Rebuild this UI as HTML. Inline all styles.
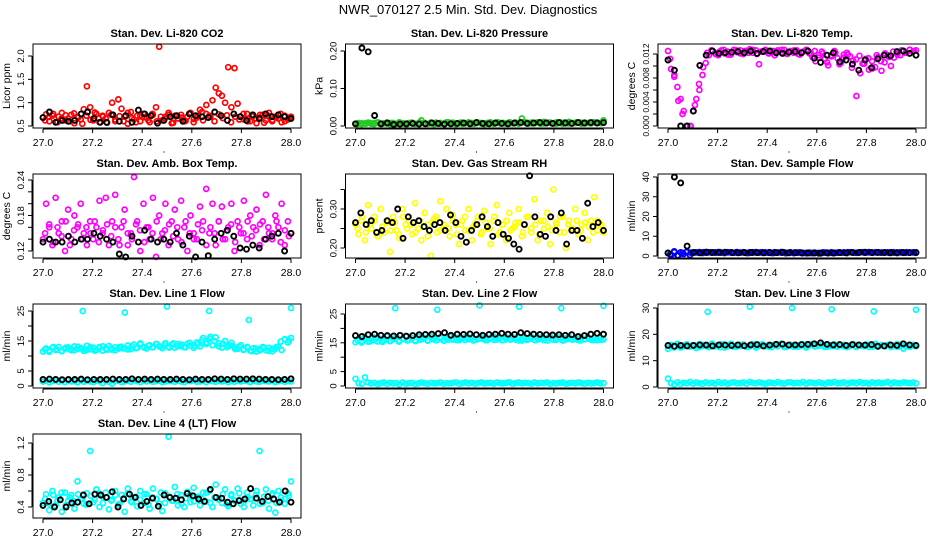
<!DOCTYPE html>
<html><head><meta charset="utf-8">
<style>
html,body{margin:0;padding:0;background:#fff;}
svg{display:block;font-family:"Liberation Sans",Arial,sans-serif;}
</style></head>
<body>
<svg id="chart" width="936" height="540" viewBox="0 0 936 540" xmlns="http://www.w3.org/2000/svg">
<rect width="936" height="540" fill="#fff"/>
<text x="468" y="14" text-anchor="middle" font-size="13">NWR_070127  2.5 Min. Std. Dev. Diagnostics</text>
</svg>
<script>
// ---- data ----
const xTicks=[27.0,27.2,27.4,27.6,27.8,28.0];
const xTickLabels=["27.0","27.2","27.4","27.6","27.8","28.0"];

const co2Red=[0.68,0.75,0.6,0.72,0.58,0.7,0.78,0.62,0.66,0.74,0.56,0.7,0.64,0.86,1.35,0.9,0.62,0.76,0.58,0.72,0.66,0.78,1.0,0.6,1.07,0.87,0.7,0.55,0.8,0.64,0.72,0.6,0.76,0.68,0.58,0.74,0.9,2.2,0.62,0.7,0.78,0.56,0.72,0.66,0.74,0.6,0.7,0.78,0.58,0.68,0.85,0.62,0.76,0.72,1.05,1.32,1.2,1.15,1.0,1.76,0.9,1.74,0.98,0.7,0.64,0.76,0.6,0.72,0.56,0.68,0.74,0.62,0.78,0.6,0.7,0.66,0.58,0.72,0.64,0.7];
const co2Red2=[0.62,0.7,0.76,0.58,0.66,0.73,0.6,0.77,0.68,0.55,0.72,0.63,0.79,0.66,0.7,0.57,0.74,0.64,0.71,0.6,0.78,0.67,0.58,0.73,0.69,0.62,0.76,0.6,0.7,0.66,0.74,0.57,0.72,0.68,0.61,0.77,0.65,0.72,0.8,0.95,0.7,0.6,0.75,0.67,0.73,0.58,0.7,0.64,0.76,0.6,0.71,0.66,0.74,0.57,0.72,0.63,0.69,0.76,0.6,0.68];
const co2Black=[0.68,0.8,0.58,0.62,0.6,0.62,0.76,0.8,0.66,0.58,0.58,0.74,0.6,0.72,0.58,0.84,0.76,0.72,0.56,0.62,0.7,0.72,0.6,0.76,0.72,0.7,0.68,0.8,0.72,0.62,0.76,0.7,0.62,0.74,0.66,0.76,0.7,0.74,0.7,0.66];

const presGreen=[0.006,0.008,0.005,0.007,0.009,0.006,0.008,0.01,0.006,0.007,0.009,0.005,0.008,0.006,0.01,0.007,0.005,0.008,0.009,0.006,0.007,0.015,0.008,0.006,0.009,0.005,0.007,0.008,0.006,0.01,0.007,0.009,0.005,0.008,0.006,0.007,0.01,0.008,0.006,0.009,0.007,0.005,0.008,0.01,0.006,0.009,0.007,0.008,0.006,0.01,0.007,0.009,0.008,0.02,0.01,0.007,0.009,0.008,0.01,0.006,0.011,0.008,0.009,0.007,0.01,0.008,0.006,0.009,0.011,0.007,0.008,0.01,0.006,0.009,0.008,0.007,0.01,0.009,0.008,0.015];
const presGreen2=[0.005,0.007,0.006,0.008,0.005,0.009,0.006,0.007,0.008,0.006,0.009,0.007,0.005,0.008,0.006,0.01,0.007,0.006,0.008,0.009,0.006,0.007,0.01,0.008,0.006,0.009,0.007,0.008,0.006,0.01,0.008,0.007,0.009,0.006,0.01,0.008,0.007,0.009,0.008,0.006,0.01,0.009,0.007,0.008,0.01,0.007,0.009,0.008,0.006,0.01,0.009,0.007,0.008,0.01,0.009,0.007,0.008,0.01,0.009,0.008];
const presBlack=[0.006,0.208,0.198,0.028,0.006,0.008,0.004,0.005,0.006,0.007,0.005,0.006,0.008,0.007,0.005,0.006,0.007,0.008,0.006,0.009,0.007,0.006,0.008,0.007,0.006,0.008,0.009,0.007,0.008,0.009,0.008,0.007,0.009,0.008,0.007,0.009,0.008,0.009,0.008,0.009];

const tempMag=[0.0125,0.0095,0.0085,0.0065,0.0045,0.0025,0.0,0.0,0.0025,0.0045,0.006,0.0085,0.0105,0.0118,0.0125,0.0122,0.0118,0.0126,0.0121,0.0124,0.0119,0.0127,0.0123,0.0126,0.012,0.0125,0.0128,0.0122,0.0126,0.0103,0.0124,0.0127,0.0121,0.0125,0.0118,0.0126,0.0123,0.0127,0.012,0.0125,0.0122,0.0126,0.0119,0.0124,0.0127,0.0121,0.0115,0.0108,0.0118,0.0124,0.0112,0.0101,0.0118,0.0125,0.0113,0.0105,0.0119,0.0122,0.0116,0.0109,0.0050,0.0117,0.0104,0.0112,0.0094,0.0108,0.0098,0.0115,0.0092,0.0106,0.0118,0.0100,0.0114,0.0121,0.0118,0.0125,0.0122,0.0127,0.0124,0.0126];
const tempMag2=[0.0112,0.0082,0.0042,0.002,0.0,0.0,0.0035,0.007,0.0098,0.0122,0.0126,0.012,0.0124,0.0127,0.0119,0.0123,0.0126,0.0121,0.0125,0.0122,0.0127,0.012,0.0124,0.0126,0.0121,0.0125,0.0123,0.0127,0.0121,0.0124,0.0126,0.012,0.0123,0.0127,0.0122,0.0125,0.0114,0.0121,0.0106,0.0116,0.0122,0.0103,0.0114,0.0119,0.0097,0.0111,0.0088,0.0104,0.0113,0.0096,0.0118,0.0108,0.0121,0.0115,0.0124,0.0119,0.0126,0.0122,0.0127,0.0125];
const tempBlack=[0.011,0.0093,0.0,0.0,0.0025,0.0101,0.0118,0.0125,0.0121,0.0122,0.0123,0.0124,0.0122,0.0125,0.0121,0.0124,0.0125,0.0122,0.0121,0.0123,0.0124,0.0122,0.0125,0.0113,0.0106,0.0118,0.0122,0.0107,0.0110,0.0103,0.0093,0.0110,0.0097,0.0112,0.0118,0.0117,0.0124,0.0125,0.0121,0.0118];

const ambMag=[0.14,0.2,0.16,0.13,0.21,0.15,0.17,0.12,0.19,0.14,0.18,0.16,0.2,0.15,0.13,0.17,0.14,0.16,0.205,0.15,0.21,0.13,0.17,0.215,0.14,0.16,0.19,0.13,0.15,0.245,0.17,0.12,0.2,0.16,0.14,0.21,0.11,0.18,0.15,0.2,0.13,0.17,0.19,0.14,0.205,0.16,0.12,0.18,0.15,0.14,0.195,0.17,0.225,0.15,0.2,0.13,0.17,0.195,0.14,0.16,0.2,0.12,0.17,0.15,0.205,0.14,0.18,0.16,0.19,0.13,0.17,0.215,0.15,0.14,0.18,0.16,0.2,0.13,0.17,0.15];
const ambMag2=[0.15,0.165,0.135,0.16,0.145,0.17,0.13,0.155,0.165,0.14,0.16,0.15,0.17,0.135,0.155,0.165,0.145,0.16,0.13,0.17,0.15,0.14,0.165,0.155,0.135,0.16,0.15,0.17,0.14,0.155,0.165,0.145,0.16,0.135,0.17,0.15,0.14,0.165,0.155,0.13,0.16,0.15,0.17,0.14,0.155,0.165,0.135,0.16,0.15,0.17,0.145,0.155,0.165,0.14,0.16,0.15,0.17,0.135,0.155,0.145];
const ambBlack=[0.135,0.14,0.135,0.135,0.145,0.135,0.14,0.14,0.15,0.145,0.14,0.135,0.115,0.11,0.145,0.135,0.155,0.14,0.135,0.14,0.135,0.15,0.13,0.145,0.11,0.135,0.112,0.14,0.15,0.155,0.145,0.125,0.123,0.13,0.125,0.14,0.145,0.15,0.12,0.15];

const rhYel=[0.26,0.235,0.28,0.22,0.31,0.25,0.27,0.23,0.3,0.24,0.265,0.19,0.28,0.245,0.225,0.3,0.26,0.27,0.235,0.315,0.25,0.22,0.29,0.26,0.18,0.275,0.24,0.32,0.25,0.3,0.23,0.285,0.26,0.21,0.27,0.245,0.3,0.22,0.26,0.28,0.235,0.295,0.25,0.21,0.27,0.31,0.24,0.26,0.22,0.29,0.25,0.265,0.3,0.23,0.26,0.28,0.24,0.325,0.22,0.27,0.25,0.29,0.21,0.35,0.26,0.24,0.28,0.2,0.27,0.25,0.3,0.235,0.26,0.29,0.22,0.27,0.33,0.245,0.26,0.24];
const rhYel2=[0.25,0.27,0.24,0.26,0.28,0.23,0.255,0.27,0.245,0.265,0.235,0.28,0.25,0.26,0.24,0.27,0.255,0.23,0.265,0.28,0.245,0.26,0.25,0.27,0.235,0.26,0.28,0.245,0.255,0.27,0.24,0.265,0.25,0.28,0.235,0.26,0.27,0.245,0.255,0.265,0.24,0.28,0.25,0.26,0.235,0.27,0.255,0.245,0.265,0.28,0.24,0.26,0.25,0.27,0.245,0.265,0.255,0.24,0.27,0.26];
const rhBlack=[0.265,0.29,0.26,0.27,0.24,0.245,0.27,0.265,0.3,0.225,0.28,0.265,0.27,0.255,0.245,0.26,0.265,0.245,0.285,0.265,0.23,0.215,0.245,0.26,0.28,0.255,0.23,0.265,0.235,0.225,0.21,0.197,0.26,0.385,0.28,0.235,0.23,0.28,0.245,0.29,0.21,0.245,0.245,0.225,0.315,0.255,0.265,0.245];

const sampBlue=[1.5,0.5,2.0,0.3,1.8,1.0,2.2,0.5,1.6,1.8,2.0,1.5,1.7,1.9,1.6,1.8,2.0,1.7,1.5,1.9,1.8,1.6,2.0,1.7,1.9,1.5,1.8,1.6,2.0,1.7,1.9,1.8,1.6,1.5,1.9,1.7,2.0,1.8,1.6,1.9,1.5,1.7,1.8,1.6,1.4,1.7,1.5,1.6,1.3,1.5,1.7,1.4,1.6,1.5,1.7,1.6,1.8,1.5,1.9,1.7,1.6,1.8,1.9,1.7,2.0,1.6,1.8,1.9,1.7,1.6,1.8,1.9,1.7,1.5,1.8,1.6,1.9,1.7,1.8,1.6];
const sampBlue2=[0.8,2.4,0.2,1.6,1.9,1.7,1.8,1.6,1.9,1.7,1.8,1.6,2.0,1.7,1.8,1.6,1.9,1.7,1.8,1.5,1.9,1.7,1.8,1.6,1.9,1.5,1.7,1.6,1.4,1.6,1.5,1.7,1.4,1.6,1.5,1.7,1.6,1.8,1.7,1.9,1.6,1.8,1.7,1.9,1.8,1.6,1.9,1.7,1.8,1.6,1.9,1.7,1.8,1.6,1.9,1.7,1.8,1.6,1.7,1.8];
const sampBlack=[1.5,40,37,5,1.8,1.6,2.0,1.8,1.7,1.9,1.8,1.6,1.7,1.8,1.7,1.6,1.8,1.7,1.9,1.6,1.7,1.6,1.5,1.5,1.4,1.6,1.5,1.7,1.6,1.8,1.7,1.9,1.8,1.7,1.8,1.6,1.7,1.8,1.7,1.8];

const l1Upper=[11.5,12.5,11.8,12.8,12.0,13.0,11.6,12.4,12.9,11.9,13.2,12.3,12.6,11.7,13.4,12.2,12.8,12.0,13.0,11.8,12.5,13.3,12.1,12.9,12.4,13.1,12.6,13.5,12.3,13.8,12.7,14.2,13.0,12.5,13.6,12.9,14.0,13.2,12.6,14.3,13.1,13.7,12.8,14.0,13.3,12.9,14.1,13.5,12.7,14.5,13.2,16.0,14.0,15.8,13.6,16.2,14.2,12.8,15.0,13.5,14.4,13.0,12.4,13.6,12.2,13.0,11.8,12.6,11.5,12.3,13.0,11.9,12.7,11.6,12.4,13.1,12.0,15.5,14.5,16.0];
const l1Upper2=[12.2,11.4,13.0,12.1,11.7,12.8,12.3,11.9,13.1,12.4,12.0,12.9,11.8,12.6,13.2,12.1,12.7,11.9,13.0,12.5,12.2,13.3,12.6,13.9,12.8,13.4,12.9,14.0,13.1,13.6,12.8,14.2,13.3,13.8,12.9,14.4,13.4,13.9,15.2,14.6,16.4,15.0,13.2,14.1,12.9,13.5,12.3,13.1,12.0,12.7,11.6,12.5,11.9,12.8,11.7,12.4,13.0,14.8,15.6,15.2];
const l1Lower=[1.5,1.8,1.2,1.6,1.9,1.4,1.7,1.3,1.8,1.5,1.6,1.2,1.9,1.4,1.7,1.5,1.3,1.8,1.6,1.0,1.7,1.4,0.8,1.6,1.8,1.3,1.5,1.7,1.4,1.9,1.6,1.3,1.8,1.5,1.7,1.4,1.6,1.8,1.3,1.5,1.7,1.6,1.4,1.8,1.5,1.3,1.7,1.6,1.9,1.4,1.5,1.7,1.3,1.8,1.6,1.4,1.7,1.5,1.8,1.3,1.6,1.4,1.7,1.5,1.8,1.6,1.3,1.7,1.5,1.4,1.8,1.6,1.5,1.7,1.3,1.6,1.8,1.4,1.6,1.5];
const l1OutX=[27.16,27.33,27.5,27.67,27.83,28.0];
const l1OutY=[25,24.5,26.5,25,22,26];
const l1Black=[2.2,2.3,2.2,2.1,2.2,2.2,2.3,2.1,2.2,2.2,2.2,2.3,2.2,2.2,2.4,2.2,2.3,2.2,2.3,2.2,2.2,2.3,2.2,2.1,2.3,2.2,2.2,2.4,2.3,2.2,2.4,2.3,2.3,2.4,2.3,2.2,2.2,2.1,2.2,2.4];

const l2Upper=[15.2,16.5,15.6,17.0,15.4,16.2,16.8,15.5,16.4,15.8,17.2,15.6,16.3,16.9,15.7,16.5,17.4,16.0,16.6,15.8,17.0,16.2,16.7,15.9,17.3,16.4,16.0,16.9,15.8,16.5,17.2,16.1,16.7,15.9,16.4,17.0,16.2,16.8,16.0,16.5,17.1,16.3,15.9,16.7,17.2,16.1,16.6,15.9,16.9,16.3,17.0,16.1,16.6,15.8,16.8,16.2,17.1,16.0,16.5,16.9,15.9,16.6,17.2,16.1,16.4,16.9,15.8,16.6,17.0,16.2,16.5,15.9,16.8,16.3,17.0,16.1,16.6,15.9,16.7,16.2];
const l2Upper2=[15.8,15.1,16.4,15.5,15.9,16.6,15.3,16.1,15.7,16.5,15.4,16.2,15.8,16.7,15.6,16.0,16.4,15.7,16.3,15.9,16.6,15.8,16.1,16.5,15.9,16.3,16.0,16.7,15.8,16.2,16.5,15.9,16.4,16.0,16.6,15.9,16.3,16.1,16.7,15.8,16.4,16.0,16.5,15.9,16.2,16.6,15.8,16.3,16.0,16.5,15.9,16.4,16.1,16.6,15.8,16.2,16.5,15.9,16.3,16.0];
const l2Lower=[2.5,1.0,0.8,3.0,1.2,0.9,1.1,0.7,1.0,1.2,0.8,1.1,0.9,1.0,0.6,1.2,0.8,1.0,1.1,0.7,0.9,1.2,1.0,0.8,1.1,0.9,1.0,1.2,0.8,1.0,0.9,1.1,1.3,0.8,1.0,1.2,0.9,1.1,0.8,1.0,1.2,0.9,1.0,1.1,0.8,1.2,1.0,0.9,1.1,1.3,0.8,1.0,1.2,0.9,1.1,1.0,0.8,1.2,0.9,1.1,1.0,1.2,0.8,1.0,0.9,1.1,1.2,0.8,1.0,1.1,0.9,1.2,1.0,0.8,1.1,0.9,1.0,1.2,0.9,1.0];
const l2OutX=[27.16,27.33,27.5,27.66,27.83,28.0];
const l2OutY=[27,26.5,28,27.5,27,27.8];
const l2Black=[17.5,17.2,17.8,18.0,17.6,17.5,17.4,17.6,17.3,17.5,17.8,17.9,18.0,18.2,18.5,17.6,18.0,17.9,18.1,17.8,17.6,17.9,18.0,18.3,18.0,17.9,18.5,18.2,18.0,17.9,17.8,17.7,17.8,17.6,17.8,17.2,17.5,18.0,18.3,18.0];

const l3Upper=[14.5,16.0,15.2,16.4,15.0,15.8,16.2,15.3,15.9,14.8,16.3,15.5,16.0,15.1,16.5,15.4,15.8,16.2,15.0,15.7,16.4,15.3,15.9,15.5,16.1,15.2,15.8,16.3,15.0,15.6,16.2,15.4,15.9,15.1,16.0,15.6,16.4,15.2,15.7,16.1,15.3,15.9,15.5,16.2,15.0,15.8,16.3,15.4,15.7,16.0,15.2,15.9,15.5,16.2,15.3,15.8,16.0,15.1,15.7,16.3,15.4,15.9,15.6,16.1,15.2,15.8,16.4,15.3,15.9,15.5,16.0,15.2,15.7,16.3,15.4,14.6,15.9,15.3,16.0,15.5];
const l3Upper2=[15.6,15.0,15.9,15.3,16.1,15.5,15.8,15.2,16.0,15.4,15.9,15.6,15.1,16.2,15.5,15.8,15.3,16.0,15.6,15.2,15.9,15.4,16.1,15.7,15.3,15.9,15.5,16.0,15.2,15.8,15.6,15.3,16.1,15.5,15.9,15.4,15.7,16.0,15.3,15.8,15.5,16.1,15.4,15.7,15.9,15.2,15.8,15.5,16.0,15.3,15.7,15.9,15.4,16.1,15.6,15.3,15.8,15.5,15.9,15.6];
const l3Lower=[3.2,1.5,1.0,1.8,1.2,1.6,1.4,1.9,1.3,1.7,1.5,1.2,1.8,1.4,1.6,1.3,1.9,1.5,1.7,1.2,1.6,1.8,1.4,1.5,1.7,1.3,1.9,1.6,1.4,1.8,1.5,1.2,1.7,1.6,1.4,1.9,1.5,1.3,1.7,1.8,1.4,1.6,1.5,1.9,1.3,1.7,1.6,1.4,1.8,1.5,1.2,1.7,1.6,1.9,1.4,1.5,1.8,1.3,1.6,1.7,1.4,1.9,1.5,1.6,1.3,1.8,1.4,1.7,1.5,1.6,1.9,1.3,1.7,1.5,1.4,1.8,1.6,1.5,1.7,1.4];
const l3OutX=[27.16,27.33,27.5,27.66,27.83,28.0];
const l3OutY=[28.5,30.5,30,29.5,28.7,29.3];
const l3Black=[15.8,15.5,15.8,15.6,15.8,16.0,15.9,15.6,16.0,15.9,15.8,16.0,15.7,16.0,16.1,15.6,15.9,16.2,16.3,15.9,16.0,16.1,16.2,16.4,16.8,16.2,16.0,16.1,15.8,16.1,16.0,15.9,16.1,15.5,15.6,16.0,15.8,16.4,16.0,15.8];

const l4Cyan=[0.45,0.56,0.36,0.6,0.42,0.52,0.34,0.58,0.48,0.55,0.38,0.72,0.5,0.44,0.57,1.1,0.46,0.62,0.4,0.53,0.58,0.37,0.49,0.6,0.43,0.55,0.34,0.63,0.47,0.52,0.41,0.6,0.45,0.56,0.38,0.63,0.5,0.44,0.35,0.57,1.28,0.48,0.65,0.42,0.55,0.4,0.59,0.46,0.64,0.52,0.42,0.58,0.47,0.6,0.4,0.68,0.5,0.45,0.62,0.41,0.56,0.48,0.63,0.44,0.4,0.58,0.5,0.42,0.6,1.1,0.45,0.62,0.38,0.55,0.33,0.6,0.48,0.44,0.57,0.72];
const l4Cyan2=[0.5,0.44,0.55,0.48,0.58,0.42,0.52,0.47,0.56,0.5,0.43,0.54,0.49,0.57,0.45,0.52,0.48,0.55,0.44,0.51,0.57,0.46,0.53,0.49,0.56,0.43,0.52,0.5,0.58,0.45,0.53,0.48,0.56,0.44,0.51,0.55,0.47,0.53,0.5,0.58,0.45,0.52,0.49,0.56,0.43,0.54,0.48,0.57,0.46,0.52,0.5,0.55,0.44,0.53,0.48,0.57,0.45,0.52,0.5,0.54];
const l4Black=[0.42,0.47,0.4,0.49,0.4,0.45,0.46,0.55,0.44,0.56,0.55,0.52,0.59,0.4,0.5,0.56,0.52,0.42,0.47,0.51,0.41,0.55,0.52,0.51,0.49,0.57,0.54,0.5,0.47,0.62,0.52,0.51,0.46,0.44,0.48,0.5,0.63,0.51,0.47,0.53,0.5,0.46,0.6,0.46];

// ---- drawing ----
const NS="http://www.w3.org/2000/svg";
const svg=document.getElementById('chart');
function mk(tag,attrs,parent){const e=document.createElementNS(NS,tag);for(const k in attrs)e.setAttribute(k,attrs[k]);(parent||svg).appendChild(e);return e;}
const colLeft=[33,345.5,658], rowTop=[44,174,304,434], W=268, H=84;

function panel(name,col,row,title,ylab,yA,pA,yB,pB,yTicks,yLabels,series,tfs){
  const L=colLeft[col],T=rowTop[row];
  const g=mk('g',{});
  
  
  const xs=v=>L+10+(v-27)*248;
  const ys=v=>T+pA+(v-yA)*(pB-pA)/(yB-yA);
  series.forEach(s=>{
    const sw=s.color==='#000'?1.9:1.7;
    const sg=mk('g',{fill:'none',stroke:s.color,'stroke-width':sw},g);
    
    
    const n=s.y.length;
    s.y.forEach((v,i)=>{
      const xv=s.x?s.x[i]:(s.half?27+(i+0.5)/n:27+i/(n-1));
      const c=mk('circle',{cx:xs(xv).toFixed(1),cy:ys(v).toFixed(1),r:2.5},sg);
      
      
    });
  });
  const b=mk('rect',{x:L,y:T,width:W,height:H,fill:'none',stroke:'#000','stroke-width':1},g);
  
  
  const t=mk('text',{x:L+W/2,y:T-7,'text-anchor':'middle','font-size':11,'font-weight':'bold'},g);
  t.textContent=title;
  
  
  const xa=mk('g',{stroke:'#000','stroke-width':1},g);
  
  
  mk('line',{x1:xs(27),x2:xs(28),y1:T+H+1,y2:T+H+1},xa);
  xTicks.forEach((v,i)=>{
    mk('line',{x1:xs(v),x2:xs(v),y1:T+H+1,y2:T+H+5},xa);
    const tl=mk('text',{x:xs(v),y:T+H+18,'text-anchor':'middle','font-size':10.5,stroke:'none',fill:'#000'},xa);
    tl.textContent=xTickLabels[i];
    
    
  });
  const dot=mk('circle',{cx:L+W/2-3,cy:T+H+24,r:0.6,fill:'#000',stroke:'none'},g);
  
  
  const ya=mk('g',{stroke:'#000','stroke-width':1},g);
  
  
  mk('line',{x1:L-1,x2:L-1,y1:ys(yTicks[0]),y2:ys(yTicks[yTicks.length-1])},ya);
  yTicks.forEach((v,i)=>{
    mk('line',{x1:L-1,x2:L-5,y1:ys(v),y2:ys(v)},ya);
    if(yLabels[i]!==''){
      const yy=ys(v),xx=L-9;
      const tl=mk('text',{x:xx,y:yy,'text-anchor':'middle','font-size':tfs||9.5,stroke:'none',fill:'#000',transform:`rotate(-90 ${xx} ${yy})`},ya);
      tl.textContent=yLabels[i];
      
      
    }
  });
  const yt=mk('text',{x:L-23,y:T+H/2,'text-anchor':'middle','font-size':10.5,transform:`rotate(-90 ${L-23} ${T+H/2})`},g);
  yt.textContent=ylab;
  
  
}

panel('co2',0,0,'Stan. Dev. Li-820 CO2','Licor ppm',0.5,82,2.0,12,[0.5,1.0,1.5,2.0],['0.5','1.0','1.5','2.0'],
  [{id:'red',color:'#ff0000',y:co2Red},{id:'red-b',color:'#ff0000',y:co2Red2,half:true},{id:'black',color:'#000',y:co2Black}]);
panel('pressure',1,0,'Stan. Dev. Li-820 Pressure','kPa',0,82,0.2,7,[0,0.1,0.2],['0.00','0.10','0.20'],
  [{id:'green',color:'#22cc22',y:presGreen},{id:'green-b',color:'#22cc22',y:presGreen2,half:true},{id:'black',color:'#000',y:presBlack}]);
panel('li820-temp',2,0,'Stan. Dev. Li-820 Temp.','degrees C',0,82,0.012,10,[0,0.002,0.004,0.006,0.008,0.010,0.012],['0.000','','0.004','','0.008','','0.012'],
  [{id:'magenta',color:'#ff00ff',y:tempMag},{id:'magenta-b',color:'#ff00ff',y:tempMag2,half:true},{id:'black',color:'#000',y:tempBlack}],8.5);
panel('amb-box-temp',0,1,'Stan. Dev. Amb. Box Temp.','degrees C',0.12,77,0.24,6,[0.12,0.14,0.16,0.18,0.20,0.22,0.24],['0.12','','','0.18','','','0.24'],
  [{id:'magenta',color:'#ff00ff',y:ambMag},{id:'magenta-b',color:'#ff00ff',y:ambMag2,half:true},{id:'black',color:'#000',y:ambBlack}]);
panel('gas-rh',1,1,'Stan. Dev. Gas Stream RH','percent',0.20,74,0.30,35,[0.20,0.25,0.30,0.35],['0.20','','0.30',''],
  [{id:'yellow',color:'#ffff00',y:rhYel},{id:'yellow-b',color:'#ffff00',y:rhYel2,half:true},{id:'black',color:'#000',y:rhBlack}]);
panel('sample-flow',2,1,'Stan. Dev. Sample Flow','ml/min',0,82,40,3,[0,10,20,30,40],['0','10','20','30','40'],
  [{id:'blue',color:'#0000ff',y:sampBlue},{id:'blue-b',color:'#0000ff',y:sampBlue2,half:true},{id:'black',color:'#000',y:sampBlack}]);
panel('line1-flow',0,2,'Stan. Dev. Line 1 Flow','ml/min',0,82,25,7,[0,5,10,15,20,25],['0','5','','15','','25'],
  [{id:'cyan-upper',color:'#00ffff',y:l1Upper},{id:'cyan-upper-b',color:'#00ffff',y:l1Upper2,half:true},{id:'cyan-lower',color:'#00ffff',y:l1Lower},{id:'cyan-outlier',color:'#00ffff',x:l1OutX,y:l1OutY},{id:'black',color:'#000',y:l1Black}]);
panel('line2-flow',1,2,'Stan. Dev. Line 2 Flow','ml/min',0,82,25,10,[0,5,10,15,20,25],['0','5','','15','','25'],
  [{id:'cyan-upper',color:'#00ffff',y:l2Upper},{id:'cyan-upper-b',color:'#00ffff',y:l2Upper2,half:true},{id:'cyan-lower',color:'#00ffff',y:l2Lower},{id:'cyan-outlier',color:'#00ffff',x:l2OutX,y:l2OutY},{id:'black',color:'#000',y:l2Black}]);
panel('line3-flow',2,2,'Stan. Dev. Line 3 Flow','ml/min',0,83,30,4,[0,10,20,30],['0','10','20','30'],
  [{id:'cyan-upper',color:'#00ffff',y:l3Upper},{id:'cyan-upper-b',color:'#00ffff',y:l3Upper2,half:true},{id:'cyan-lower',color:'#00ffff',y:l3Lower},{id:'cyan-outlier',color:'#00ffff',x:l3OutX,y:l3OutY},{id:'black',color:'#000',y:l3Black}]);
panel('line4-flow',0,3,'Stan. Dev. Line 4 (LT) Flow','ml/min',0.4,73,1.2,9,[0.4,0.6,0.8,1.0,1.2],['0.4','','0.8','','1.2'],
  [{id:'cyan',color:'#00ffff',y:l4Cyan},{id:'cyan-b',color:'#00ffff',y:l4Cyan2,half:true},{id:'black',color:'#000',y:l4Black}]);
</script>
</body></html>
